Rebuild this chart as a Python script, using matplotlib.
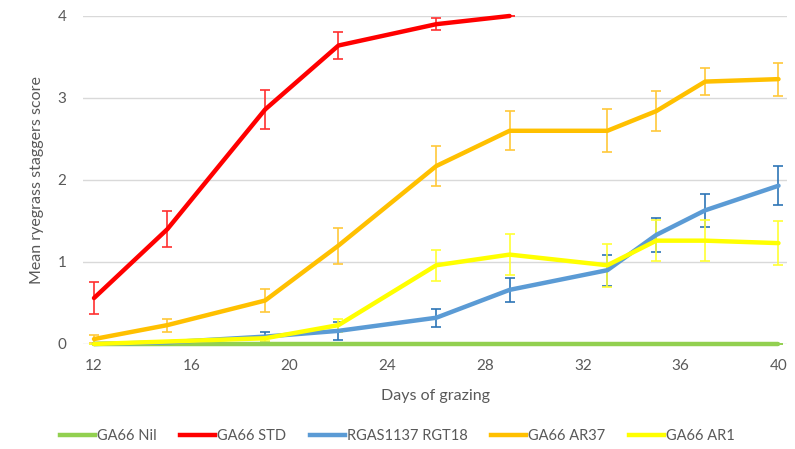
import numpy as np
import matplotlib.pyplot as plt

plt.rcParams['font.family'] = ['Lato', 'DejaVu Sans']

days = [12, 15, 19, 22, 26, 29, 33, 35, 37, 40]

nil = [0, 0, 0, 0, 0, 0, 0, 0, 0, 0]
nil_err = [0, 0, 0, 0, 0, 0, 0, 0, 0, 0]

std = [0.56, 1.40, 2.86, 3.64, 3.90, 4.00, np.nan, np.nan, np.nan, np.nan]
std_err = [0.19, 0.22, 0.24, 0.16, 0.07, 0.0, np.nan, np.nan, np.nan, np.nan]

rgt18 = [0.0, 0.02, 0.09, 0.16, 0.32, 0.66, 0.90, 1.33, 1.63, 1.93]
rgt18_err = [0.0, 0.0, 0.06, 0.11, 0.11, 0.15, 0.19, 0.21, 0.20, 0.24]

ar37 = [0.06, 0.23, 0.53, 1.20, 2.17, 2.60, 2.60, 2.84, 3.20, 3.23]
ar37_err = [0.05, 0.08, 0.14, 0.22, 0.24, 0.24, 0.26, 0.24, 0.16, 0.20]

ar1 = [0.0, 0.03, 0.07, 0.23, 0.96, 1.09, 0.96, 1.26, 1.26, 1.23]
ar1_err = [0.0, 0.0, 0.03, 0.08, 0.19, 0.25, 0.26, 0.25, 0.25, 0.27]

series = [
    ("GA66 Nil", nil, nil_err, "#92D050", "#92D050"),
    ("GA66 STD", std, std_err, "#FF0000", "#FF3030"),
    ("RGAS1137 RGT18", rgt18, rgt18_err, "#5B9BD5", "#2E75B6"),
    ("GA66 AR37", ar37, ar37_err, "#FFC000", "#FFC83A"),
    ("GA66 AR1", ar1, ar1_err, "#FFFF00", "#FFFF33"),
]

fig = plt.figure(figsize=(7.95, 4.49), dpi=100)
ax = fig.add_axes([0.1044, 0.2339, 0.8856, 0.7305])

for name, vals, errs, col, ecol in series:
    ax.errorbar(days, vals, yerr=errs, color=col, ecolor=ecol, lw=3.2,
                elinewidth=1.2, capsize=3.5, capthick=1.2, label=name,
                clip_on=False, solid_capstyle='round')

ax.set_xlim(11.55, 40.35)
ax.set_ylim(0, 4)
ax.set_xticks(range(12, 41, 4))
ax.set_yticks(range(0, 5))
ax.grid(axis='y', color='#D9D9D9', lw=1)
ax.set_axisbelow(True)
for s in ax.spines.values():
    s.set_visible(False)
ax.tick_params(length=0, labelsize=11, labelcolor='#595959', pad=11)
ax.tick_params(axis='y', pad=12)

ax.set_xlabel("Days of grazing", fontsize=11.5, color='#595959', labelpad=11)
ax.set_ylabel("Mean ryegrass staggers score", fontsize=11.5, color='#595959', labelpad=10)

labels = [s[0] for s in series]
handles = [plt.Line2D([], [], color=s[3], lw=3.2) for s in series]
fig.legend(handles, labels, loc='lower center', ncol=5, frameon=False,
           bbox_to_anchor=(0.5, -0.015), fontsize=10.5, labelcolor='#595959',
           handlelength=2.4, handletextpad=0.15, columnspacing=1.6)

fig.savefig("out.png", dpi=100)
